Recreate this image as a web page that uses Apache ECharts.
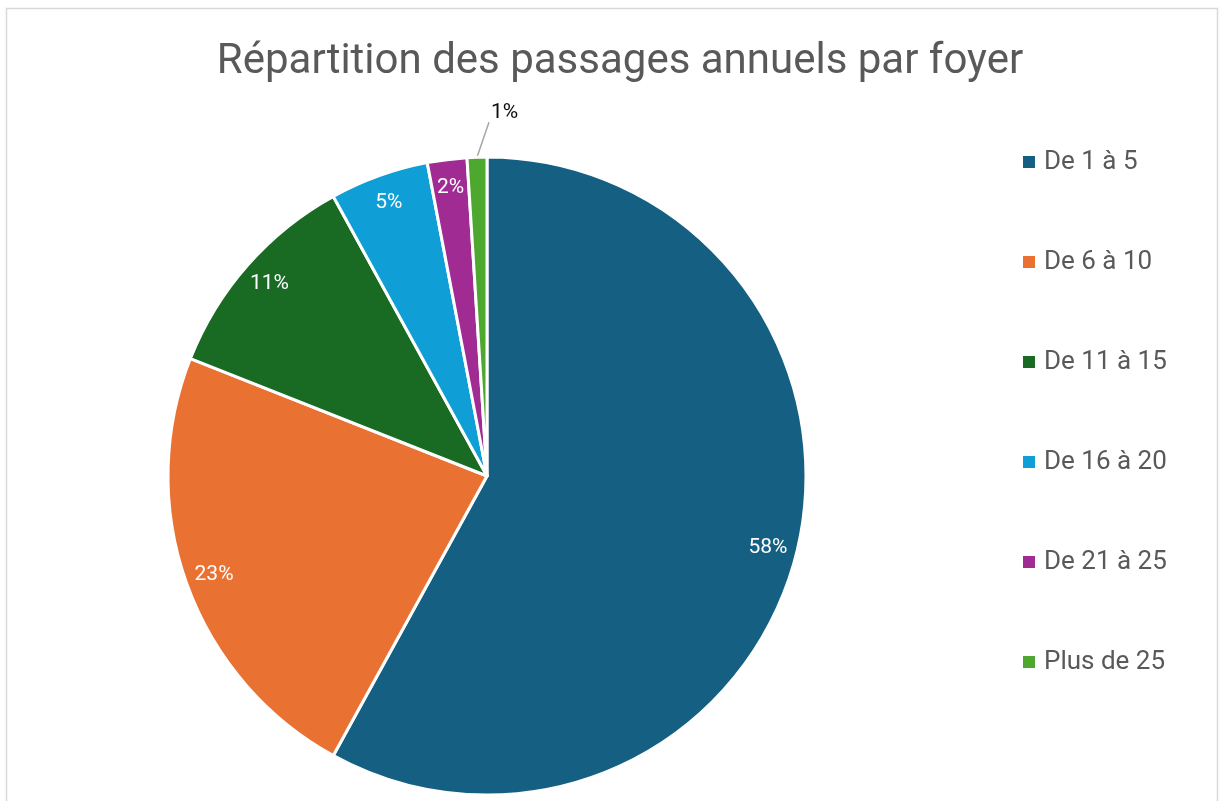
<!DOCTYPE html>
<html>
<head>
<meta charset="utf-8">
<script src="https://cdn.jsdelivr.net/npm/echarts@6/dist/echarts.min.js"></script>
<style>
  html, body { margin: 0; padding: 0; background: #fff; }
  #chart { width: 1219px; height: 801px; }
</style>
</head>
<body>
<div id="chart"></div>
<script>
const titleText = 'Répartition des passages annuels par foyer'
const categories = ['De 1 à 5', 'De 6 à 10', 'De 11 à 15', 'De 16 à 20', 'De 21 à 25', 'Plus de 25']
const shares = [58, 23, 11, 5, 2, 1]
const colors = ['#156082', '#E97132', '#196B24', '#0F9ED5', '#A02B93', '#4EA72E']

const font = 'Roboto, "Liberation Sans", sans-serif'
const cx = 487
const cy = 476
const R = 319
const lastIndex = categories.length - 1
const total = shares.reduce((a, b) => a + b, 0)

const chart = echarts.init(document.getElementById('chart'))

// leader line for the smallest slice: starts on the rim at the slice's mid angle
function smallSliceLayout(params) {
  if (params.dataIndex !== lastIndex) return {}
  const before = shares.slice(0, lastIndex).reduce((a, b) => a + b, 0)
  const angle = ((before + shares[lastIndex] / 2) / total) * 2 * Math.PI
  const sx = cx + R * Math.sin(angle)
  const sy = cy - R * Math.cos(angle)
  const ex = sx + 12
  const ey = sy - 35
  return {
    x: ex + 2,
    y: ey - 9,
    align: 'left',
    verticalAlign: 'middle',
    labelLinePoints: [[sx, sy], [ex, ey], [ex, ey]]
  }
}

const mainData = categories.map((name, i) => {
  const item = { name, value: shares[i], itemStyle: { color: colors[i] } }
  if (i === lastIndex) {
    item.label = { show: true, position: 'outside', color: '#0d0d0d', fontSize: 21, fontFamily: font, formatter: '{c}%' }
    item.labelLine = { show: true, length: 30, length2: 0, lineStyle: { color: '#a6a6a6', width: 1.5 } }
  }
  return item
})

const labelData = categories.map((name, i) => ({
  name,
  value: shares[i],
  label: { show: i < lastIndex }
}))

chart.setOption({
  animation: false,
  color: colors,
  title: {
    text: titleText,
    left: 615,
    top: 36,
    textAlign: 'center',
    textStyle: { fontSize: 42, fontWeight: 'normal', color: '#595959', fontFamily: font }
  },
  legend: {
    orient: 'vertical',
    left: 1021,
    top: 149,
    padding: 0,
    itemWidth: 14,
    itemHeight: 14,
    itemGap: 74,
    icon: 'rect',
    data: categories,
    textStyle: { fontSize: 26, color: '#595959', fontFamily: font, padding: [0, 0, 0, 3] }
  },
  graphic: [
    {
      type: 'rect',
      shape: { x: 6.5, y: 8.5, width: 1211, height: 820 },
      style: { fill: 'none', stroke: '#d9d9d9', lineWidth: 1.5 },
      silent: true
    }
  ],
  series: [
    {
      type: 'pie',
      center: [cx, cy],
      radius: [0, R],
      startAngle: 90,
      clockwise: true,
      avoidLabelOverlap: false,
      itemStyle: { borderColor: '#fff', borderWidth: 3 },
      label: { show: false },
      labelLine: { show: false },
      labelLayout: smallSliceLayout,
      emphasis: { disabled: true },
      data: mainData
    },
    {
      // transparent ring used only to place the inside labels near the rim
      type: 'pie',
      center: [cx, cy],
      radius: [R * 0.8, R],
      startAngle: 90,
      clockwise: true,
      silent: true,
      itemStyle: { color: 'rgba(0,0,0,0)', borderWidth: 0 },
      label: { position: 'inside', color: '#fff', fontSize: 21, fontFamily: font, formatter: '{c}%' },
      labelLine: { show: false },
      emphasis: { disabled: true },
      data: labelData
    }
  ]
})

window.addEventListener('resize', () => chart.resize())
</script>
</body>
</html>
